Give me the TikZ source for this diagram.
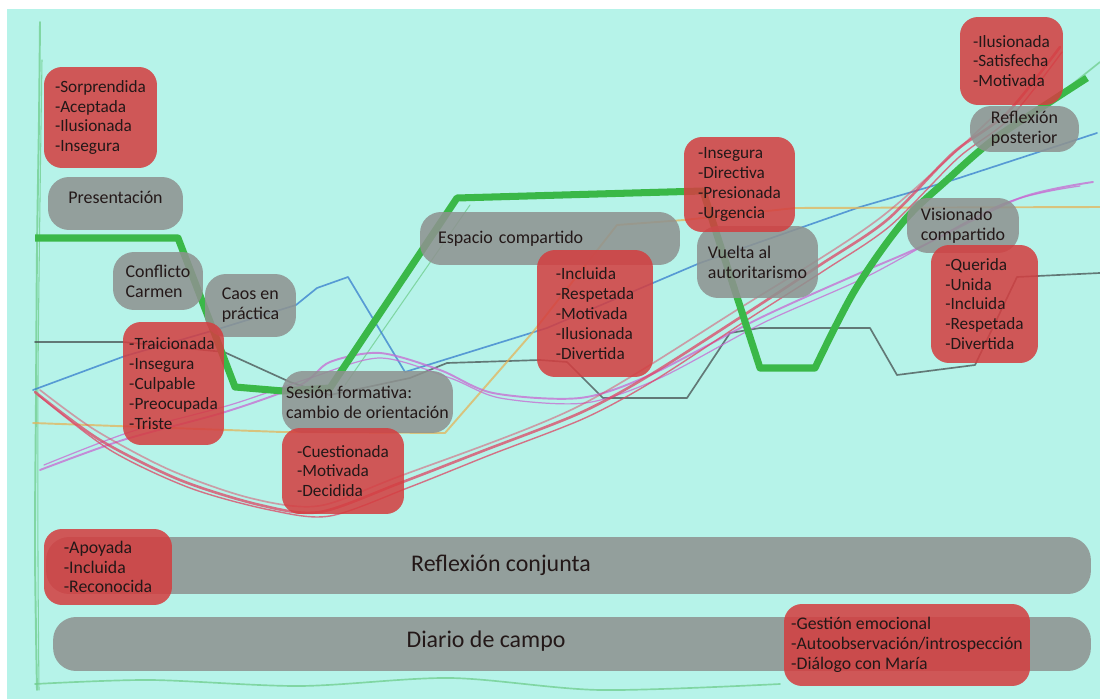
\documentclass[tikz,border=0pt]{standalone}
\usepackage{fontspec}
\setmainfont{Carlito}
\definecolor{paper}{RGB}{182,243,233}
\definecolor{boxgrey}{RGB}{142,146,144}
\definecolor{boxred}{RGB}{212,62,64}
\definecolor{ink}{RGB}{35,24,24}
\definecolor{markergreen}{RGB}{58,184,72}
\definecolor{pencilgreen}{RGB}{110,205,140}
\definecolor{pencilblack}{RGB}{70,80,80}
\definecolor{pencilblue}{RGB}{55,125,205}
\definecolor{pencilyellow}{RGB}{228,180,90}
\definecolor{pencilviolet}{RGB}{200,105,210}
\definecolor{pencilred}{RGB}{222,70,100}
\begin{document}
\begin{tikzpicture}[x=0.02cm, y=-0.02cm,
  pencil/.style={line width=0.95pt, line cap=round, line join=round, opacity=0.75},
  marker/.style={draw=markergreen, line width=4pt, line join=round},
  panel/.style={inner sep=0pt, align=left, text=ink, fill opacity=0.86, text opacity=1},
  greypanel/.style={panel, fill=boxgrey, rounded corners=0.42cm, font=\fontsize{10.2}{11.3}\selectfont},
  redpanel/.style={panel, fill=boxred, rounded corners=0.36cm, font=\fontsize{9.8}{11.3}\selectfont},
  smallred/.style={redpanel, font=\fontsize{10.1}{11.3}\selectfont},
  bar/.style={panel, fill=boxgrey, rounded corners=0.46cm},
  bartext/.style={text=ink, font=\fontsize{13.6}{16}\selectfont, inner sep=0pt}]
\useasboundingbox (0,0) rectangle (1100,699);
\fill[white] (0,0) rectangle (1100,699);
\fill[paper] (7,9) rectangle (1100,699);

% hand-drawn pencil curves
\draw[pencil, pencilgreen, line width=1.1pt] plot[smooth] coordinates {(40,22) (39,120) (37,250) (36,400) (35,550) (37,690)};
\draw[pencil, pencilgreen, line width=0.6pt] plot[smooth] coordinates {(42,60) (40,200) (38,380) (38,560) (39,690)};
\draw[pencil, pencilgreen] plot[smooth] coordinates {(35,684) (150,680) (300,686) (450,678) (600,690) (780,684)};
\draw[pencil, pencilgreen, line width=0.6pt] (345,385) -- (470,205);
\draw[pencil, pencilgreen] (1040,110) -- (1100,62);

\draw[pencil, pencilblack] (35,342) -- (123,342) -- (224,352) -- (290,382) -- (330,395) -- (410,378) -- (447,363) -- (540,360) -- (567,362) -- (603,398) -- (687,398) -- (730,333) -- (760,328) -- (870,328) -- (897,375) -- (975,365) -- (1017,277) -- (1100,273);

\draw[pencil, pencilblue] (33,390) -- (125,356) -- (215,330) -- (296,305) -- (317,288) -- (348,277) -- (405,372) -- (547,328) -- (700,263) -- (860,207) -- (953,180) -- (1097,133);

\draw[pencil, pencilyellow, line width=1.1pt] (33,423) -- (282,432) -- (445,433) -- (533,332) -- (617,225) -- (684,220) -- (795,208) -- (1100,207);

\draw[pencil, pencilviolet, line width=1.1pt] plot[smooth] coordinates {(40,470) (123,440) (225,412) (300,385) (330,362) (380,353) (440,370) (493,393) (580,398) (650,375) (760,318) (860,273) (920,247) (1020,198) (1093,182)};
\draw[pencil, pencilviolet, line width=0.7pt] plot[smooth] coordinates {(44,465) (130,432) (230,405) (310,378) (380,358) (450,378) (500,398) (585,403) (660,378) (765,322) (870,275) (1000,205) (1080,186)};

\draw[pencil, pencilred, line width=1.5pt] plot[smooth] coordinates {(35,392) (100,440) (180,480) (260,505) (320,512) (400,483) (480,452) (580,413) (650,375) (747,313) (820,265) (887,220) (953,153) (1007,113) (1060,47)};
\draw[pencil, pencilred, line width=0.8pt] plot[smooth] coordinates {(38,395) (110,450) (190,488) (270,510) (330,516) (410,487) (490,455) (585,418) (655,380) (750,318) (825,270) (890,226) (958,158) (1010,118) (1062,52)};
\draw[pencil, pencilred, opacity=0.5] plot[smooth] coordinates {(40,390) (95,430) (170,470) (250,498) (318,506) (395,478) (575,408) (740,308) (880,218) (1000,110)};

% thick marker trajectory
\draw[marker] (35,238) -- (178,238) -- (235,387) -- (283,391) -- (330,388) -- (457,198) -- (703,191) -- (717,235) -- (760,368) -- (815,368)
  -- plot[smooth, tension=0.55] coordinates {(815,368) (855,290) (903,222) (947,180) (993,140) (1053,100) (1087,78)};

% grey stage panels
\node[greypanel, minimum width=2.70cm, minimum height=1.06cm, text depth=0.25cm] (presentacion) at (115.5,203.5) {Presentación};
\node[greypanel, minimum width=1.80cm, minimum height=1.16cm] (conflicto) at (158,281) {Conflicto\\Carmen};
\node[greypanel, minimum width=1.82cm, minimum height=1.26cm] (caos) at (250.5,305.5) {Caos en\\práctica};
\node[greypanel, minimum width=3.42cm, minimum height=1.24cm] (sesion) at (367.5,402) {Sesión formativa:\\cambio de orientación};
\node[greypanel, text width=4.48cm, inner xsep=0.36cm, minimum height=1.06cm] (espacio) at (550,238.5) {Espacio compartido};
\node[greypanel, minimum width=2.42cm, minimum height=1.44cm] (vuelta) at (757.5,262) {Vuelta al\\autoritarismo};
\node[greypanel, minimum width=2.18cm, minimum height=0.92cm] (posterior) at (1024.5,129) {Reflexión\\posterior};
\node[greypanel, minimum width=2.24cm, minimum height=1.1cm] (visionado) at (963,225.5) {Visionado\\compartido};

% red feeling panels
\node[redpanel, minimum width=2.26cm, minimum height=2.02cm] (feelA) at (100.5,117.5) {-Sorprendida\\-Aceptada\\-Ilusionada\\-Insegura};
\node[redpanel, minimum width=2.02cm, minimum height=2.46cm] (feelB) at (173.5,383.5) {-Traicionada\\-Insegura\\-Culpable\\-Preocupada\\-Triste};
\node[redpanel, minimum width=2.44cm, minimum height=1.72cm] (feelC) at (343,471) {-Cuestionada\\-Motivada\\-Decidida};
\node[redpanel, minimum width=2.32cm, minimum height=2.54cm] (feelD) at (595,313.5) {-Incluida\\-Respetada\\-Motivada\\-Ilusionada\\-Divertida};
\node[redpanel, minimum width=2.22cm, minimum height=1.9cm] (feelE) at (739.5,184.5) {-Insegura\\-Directiva\\-Presionada\\-Urgencia};
\node[redpanel, minimum width=2.06cm, minimum height=1.76cm] (feelF) at (1011.5,61) {-Ilusionada\\-Satisfecha\\-Motivada};
\node[redpanel, minimum width=2.14cm, minimum height=2.36cm] (feelG) at (984.5,304) {-Querida\\-Unida\\-Incluida\\-Respetada\\-Divertida};

% long bars at the bottom
\node[bar, minimum width=20.9cm, minimum height=1.14cm] (conjunta) at (568.5,565.5) {};
\node[bartext] (conjuntatxt) at (501,565) {Reflexión conjunta};
\node[smallred, minimum width=2.56cm, minimum height=1.52cm] (feelH) at (108,567) {-Apoyada\\-Incluida\\-Reconocida};
\node[bar, minimum width=20.76cm, minimum height=1.08cm] (diario) at (572,644) {};
\node[bartext] (diariotxt) at (486,641) {Diario de campo};
\node[smallred, minimum width=4.92cm, minimum height=1.64cm] (feelI) at (907,645) {-Gestión emocional\\-Autoobservación/introspección\\-Diálogo con María};
\end{tikzpicture}
\end{document}
